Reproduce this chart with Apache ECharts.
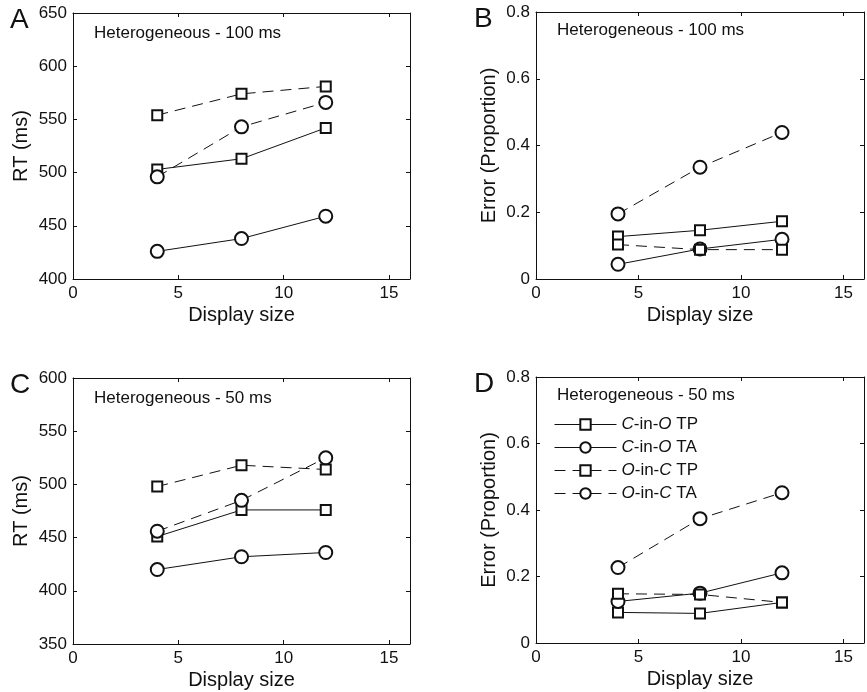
<!DOCTYPE html>
<html>
<head>
<meta charset="utf-8">
<script src="https://cdn.jsdelivr.net/npm/echarts@6/dist/echarts.min.js"></script>
<style>
  html, body { margin: 0; padding: 0; background: #fff; }
  #chart { width: 867px; height: 692px; }
</style>
</head>
<body>
<div id="chart"></div>
<script>
// display sizes (x)
var sizes = [4, 8, 12];
var seriesNames = ['C-in-O TP', 'C-in-O TA', 'O-in-C TP', 'O-in-C TA'];

// A: RT, 100 ms
var rtA_cinoTP = [503, 513, 542];
var rtA_cinoTA = [426, 438, 459];
var rtA_oincTP = [554, 574, 581];
var rtA_oincTA = [496, 543, 566];
// B: error, 100 ms
var errB_cinoTP = [0.127, 0.146, 0.173];
var errB_cinoTA = [0.044, 0.090, 0.119];
var errB_oincTP = [0.103, 0.088, 0.088];
var errB_oincTA = [0.195, 0.335, 0.439];
// C: RT, 50 ms
var rtC_cinoTP = [451, 476, 476];
var rtC_cinoTA = [420, 432, 436];
var rtC_oincTP = [498, 518, 514];
var rtC_oincTA = [456, 485, 525];
// D: error, 50 ms
var errD_cinoTP = [0.092, 0.089, 0.122];
var errD_cinoTA = [0.125, 0.150, 0.211];
var errD_oincTP = [0.148, 0.146, 0.122];
var errD_oincTA = [0.227, 0.374, 0.452];

var FONT = '"Liberation Sans", Arial, sans-serif';
var INK = '#111';

var panels = [
  { letter: 'A', note: 'Heterogeneous - 100 ms', yName: 'RT (ms)', yMin: 400, yMax: 650, yStep: 50,
    grid: { left: 73, top: 13, width: 337, height: 266 }, data: [rtA_cinoTP, rtA_cinoTA, rtA_oincTP, rtA_oincTA] },
  { letter: 'B', note: 'Heterogeneous - 100 ms', yName: 'Error (Proportion)', yMin: 0, yMax: 0.8, yStep: 0.2,
    grid: { left: 536, top: 12, width: 333, height: 267 }, data: [errB_cinoTP, errB_cinoTA, errB_oincTP, errB_oincTA] },
  { letter: 'C', note: 'Heterogeneous - 50 ms', yName: 'RT (ms)', yMin: 350, yMax: 600, yStep: 50,
    grid: { left: 73, top: 378, width: 337, height: 266 }, data: [rtC_cinoTP, rtC_cinoTA, rtC_oincTP, rtC_oincTA] },
  { letter: 'D', note: 'Heterogeneous - 50 ms', yName: 'Error (Proportion)', yMin: 0, yMax: 0.8, yStep: 0.2,
    grid: { left: 536, top: 377, width: 333, height: 266 }, data: [errD_cinoTP, errD_cinoTA, errD_oincTP, errD_oincTA] }
];

var symbols = ['emptyRect', 'emptyCircle', 'emptyRect', 'emptyCircle'];
var symbolSizes = [10, 13, 10, 13];
var dashed = [false, false, true, true];

var grids = [], xAxes = [], yAxes = [], series = [], titles = [];

panels.forEach(function (p, i) {
  grids.push(p.grid);
  var axisLine = { show: true, onZero: false, lineStyle: { color: INK, width: 1 } };
  var tick = { show: true, inside: true, length: 4, lineStyle: { color: INK } };
  // bottom & top x axes
  xAxes.push({
    gridIndex: i, type: 'value', min: 0, max: 16, interval: 5, position: 'bottom',
    axisLine: axisLine, axisTick: tick, splitLine: { show: false },
    axisLabel: { color: INK, fontSize: 17, fontFamily: FONT, margin: 6,
      formatter: function (v) { return v % 5 === 0 ? v : ''; } },
    name: 'Display size', nameLocation: 'middle', nameGap: 26,
    nameTextStyle: { color: INK, fontSize: 20, fontFamily: FONT }
  });
  xAxes.push({
    gridIndex: i, type: 'value', min: 0, max: 16, interval: 5, position: 'top',
    axisLine: axisLine, axisTick: tick, splitLine: { show: false }, axisLabel: { show: false }
  });
  // left & right y axes
  yAxes.push({
    gridIndex: i, type: 'value', min: p.yMin, max: p.yMax, interval: p.yStep, position: 'left',
    axisLine: axisLine, axisTick: tick, splitLine: { show: false },
    axisLabel: { color: INK, fontSize: 17, fontFamily: FONT, margin: 6 },
    name: p.yName, nameLocation: 'middle', nameGap: p.yMin === 0 ? 37 : 42,
    nameTextStyle: { color: INK, fontSize: 20, fontFamily: FONT }
  });
  yAxes.push({
    gridIndex: i, type: 'value', min: p.yMin, max: p.yMax, interval: p.yStep, position: 'right',
    axisLine: axisLine, axisTick: tick, splitLine: { show: false }, axisLabel: { show: false }
  });

  p.data.forEach(function (vals, k) {
    series.push({
      name: seriesNames[k], type: 'line',
      xAxisIndex: i * 2, yAxisIndex: i * 2,
      data: sizes.map(function (x, j) { return [x, vals[j]]; }),
      symbol: symbols[k], symbolSize: symbolSizes[k],
      itemStyle: { color: INK, borderWidth: 1 },
      lineStyle: { color: INK, width: 1, type: dashed[k] ? [11, 7] : 'solid' },
      emphasis: { disabled: true },
      animation: false
    });
  });

  titles.push({
    text: p.letter, left: i % 2 === 0 ? 10 : 474, top: p.grid.top - 7,
    textStyle: { color: INK, fontSize: 28, fontWeight: 'normal', fontFamily: FONT }, padding: 0
  });
  titles.push({
    text: p.note, left: p.grid.left + 21, top: p.grid.top + (i % 2 === 0 ? 12 : 10),
    textStyle: { color: INK, fontSize: 17, fontWeight: 'normal', fontFamily: FONT }, padding: 0
  });
});

var option = {
  backgroundColor: '#fff',
  animation: false,
  title: titles,
  grid: grids,
  xAxis: xAxes,
  yAxis: yAxes,
  legend: {
    data: seriesNames,
    orient: 'vertical',
    left: 549, top: 411,
    itemWidth: 62, itemHeight: 13, itemGap: 6,
    selectedMode: false,
    itemStyle: { borderWidth: 1 },
    lineStyle: { width: 1 },
    textStyle: { color: INK, fontSize: 17, fontFamily: FONT,
      rich: { i: { fontStyle: 'italic', fontSize: 17, fontFamily: FONT, color: INK } } },
    formatter: function (name) {
      var m = name.split(' ');
      var parts = m[0].split('-');
      return '{i|' + parts[0] + '}-in-{i|' + parts[2] + '} ' + m[1];
    }
  },
  series: series
};

var myChart = echarts.init(document.getElementById('chart'));
myChart.setOption(option);
</script>
</body>
</html>
